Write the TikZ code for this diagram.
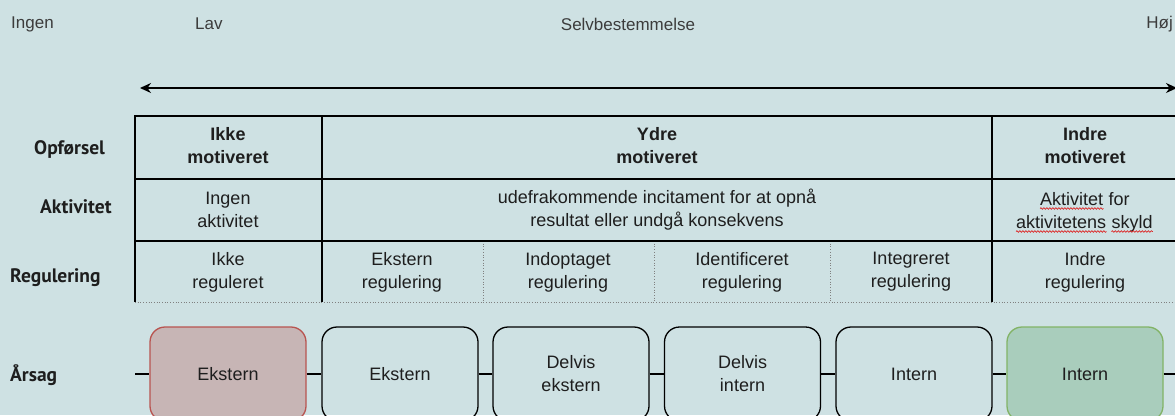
\documentclass[tikz,border=0pt]{standalone}
\usepackage{fontspec}
\setmainfont{Liberation Sans}
\newfontfamily\rowfont{PT Sans}
\usetikzlibrary{arrows.meta,decorations.pathmorphing}
\definecolor{bg}{RGB}{206,225,227}
\definecolor{txt}{RGB}{30,30,30}
\definecolor{toptxt}{RGB}{60,60,60}
\definecolor{redfill}{RGB}{199,181,181}
\definecolor{redline}{RGB}{184,84,80}
\definecolor{greenfill}{RGB}{169,205,188}
\definecolor{greenline}{RGB}{130,179,102}
\definecolor{wavered}{RGB}{220,40,40}
\begin{document}
\begin{tikzpicture}[x=1pt,y=-1pt,
  head/.style={font=\bfseries\fontsize{18}{23}\selectfont, align=center, text=txt, inner sep=0pt},
  cell/.style={font=\fontsize{18}{23}\selectfont, align=center, text=txt, inner sep=0pt},
  word/.style={cell, anchor=base west},
  rowlab/.style={font=\rowfont\bfseries\fontsize{19.5}{23}\selectfont, anchor=west, text=txt, inner sep=0pt},
  toplab/.style={font=\fontsize{17}{20}\selectfont, text=toptxt, inner sep=0pt},
  grid/.style={line width=2pt, draw=black},
  dots/.style={draw=gray, dotted, line width=0.7pt},
  box/.style={draw=black, line width=1.3pt, rounded corners=15pt, minimum width=156pt, minimum height=94pt, align=center, font=\fontsize{18}{23}\selectfont, text=txt, inner sep=0pt},
  redbox/.style={box, draw=redline, fill=redfill},
  greenbox/.style={box, draw=greenline, fill=greenfill},
  link/.style={draw=black, line width=1.3pt},
  scalearrow/.style={draw=black, line width=1.6pt, {Stealth[length=11pt,width=10pt]}-{Stealth[length=11pt,width=10pt]}},
  wave/.style={draw=wavered, line width=0.7pt, decorate, decoration={snake, segment length=3pt, amplitude=0.8pt}}
]
\useasboundingbox (0,0) rectangle (1175,415);
\fill[bg] (0,0) rectangle (1175,415);
\clip (0,0) rectangle (1175,415);

% top labels
\node[toplab, anchor=west] (ingen) at (11,24) {Ingen};
\node[toplab, anchor=west] (lav) at (195,24) {Lav};
\node[toplab] (selv) at (628,24) {Selvbestemmelse};
\node[toplab, anchor=east] (hoj) at (1173,24) {Høj};

% scale arrow
\coordinate (al) at (140,88);
\coordinate (ar) at (1177,88);
\draw[scalearrow] (al) -- (ar);

% table grid
\draw[dots] (135,302) -- (1180,302);
\draw[dots] (483,241) -- (483,302);
\draw[dots] (654,241) -- (654,302);
\draw[dots] (830,241) -- (830,302);
\draw[grid] (1180,116) -- (135,116) -- (135,302);
\draw[grid] (135,179) -- (1180,179);
\draw[grid] (135,241) -- (1180,241);
\draw[grid] (322,116) -- (322,302);
\draw[grid] (992,116) -- (992,302);

% row labels
\node[rowlab] (lopf) at (34,149) {Opførsel};
\node[rowlab] (lakt) at (40,207) {Aktivitet};
\node[rowlab] (lreg) at (10,278) {Regulering};
\node[rowlab] (lars) at (10,375) {Årsag};

% row 1
\node[head] (h1) at (228,146) {Ikke\\motiveret};
\node[head] (h2) at (657,146) {Ydre\\motiveret};
\node[head] (h3) at (1085,146) {Indre\\motiveret};

% row 2
\node[cell] (a1) at (228,210) {Ingen\\aktivitet};
\node[cell] (a2) at (657,210) {udefrakommende incitament for at opnå\\resultat eller undgå konsekvens};
\node[word] (w1) at (1040,205) {Aktivitet};
\node[word] (w2) at ([xshift=5pt]w1.base east) {for};
\node[word] (w3) at (1016,228) {aktivitetens};
\node[word] (w4) at ([xshift=5pt]w3.base east) {skyld};
\draw[wave] ([yshift=-3.5pt]w1.base west) -- ([yshift=-3.5pt]w1.base east);
\draw[wave] ([yshift=-3.5pt]w3.base west) -- ([yshift=-3.5pt]w3.base east);
\draw[wave] ([yshift=-3.5pt]w4.base west) -- ([yshift=-3.5pt]w4.base east);

% row 3
\node[cell] (r1) at (228,272) {Ikke\\reguleret};
\node[cell] (r2) at (402,272) {Ekstern\\regulering};
\node[cell] (r3) at (568,272) {Indoptaget\\regulering};
\node[cell] (r4) at (742,272) {Identificeret\\regulering};
\node[cell] (r5) at (911,272) {Integreret\\regulering};
\node[cell] (r6) at (1085,272) {Indre\\regulering};

% cause boxes
\coordinate (cl) at (135,374);
\coordinate (cr) at (1180,374);
\node[redbox] (b1) at (228,374) {Ekstern};
\node[box] (b2) at (400,374) {Ekstern};
\node[box] (b3) at (571,374) {Delvis\\ekstern};
\node[box] (b4) at (742.5,374) {Delvis\\intern};
\node[box] (b5) at (914,374) {Intern};
\node[greenbox] (b6) at (1085,374) {Intern};
\draw[link] (cl) -- (b1.west);
\draw[link] (b1.east) -- (b2.west);
\draw[link] (b2.east) -- (b3.west);
\draw[link] (b3.east) -- (b4.west);
\draw[link] (b4.east) -- (b5.west);
\draw[link] (b5.east) -- (b6.west);
\draw[link] (b6.east) -- (cr);
\end{tikzpicture}
\end{document}
